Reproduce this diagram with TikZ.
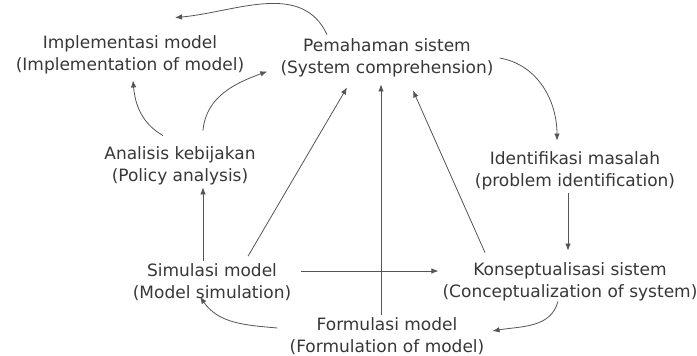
\documentclass[tikz,border=0pt]{standalone}
\usepackage{fontspec}
\setmainfont{DejaVu Sans}
\usetikzlibrary{arrows.meta}
\definecolor{inkgray}{RGB}{55,55,55}
\definecolor{linegray}{RGB}{85,85,85}

\begin{document}
\begin{tikzpicture}[
  x=1pt, y=-1pt,
  lbl/.style={text=inkgray, align=center, inner sep=2pt,
    font=\fontsize{17}{22}\selectfont},
  arr/.style={-{Latex[length=7pt,width=5.5pt]}, draw=linegray, line width=0.8pt}
]
\useasboundingbox (0,0) rectangle (697,356);
\node[lbl] (impl)   at (130,55)  {Implementasi model\\(Implementation of model)};
\node[lbl] (pem)    at (387,58)  {Pemahaman sistem\\(System comprehension)};
\node[lbl] (anal)   at (180,166) {Analisis kebijakan\\(Policy analysis)};
\node[lbl] (ident)  at (575,171) {Identifikasi masalah\\(problem identification)};
\node[lbl] (sim)    at (212,282) {Simulasi model\\(Model simulation)};
\node[lbl] (konsep) at (570,282) {Konseptualisasi sistem\\(Conceptualization of system)};
\node[lbl] (form)   at (387,336) {Formulasi model\\(Formulation of model)};
% Curved arrows
\draw[arr] ([xshift=-60pt,yshift=2pt]pem.north) to[out=115,in=5] ([xshift=45pt,yshift=16pt]impl.north);
\draw[arr] ([xshift=-17pt,yshift=9pt]anal.north) to[out=150,in=-85] ([xshift=3pt,yshift=-4pt]impl.south);
\draw[arr] ([xshift=23pt,yshift=14pt]anal.north) to[out=85,in=200] ([xshift=-11pt,yshift=8pt]pem.south west);
\draw[arr] ([xshift=4pt]pem.east) to[out=-10,in=90] ([xshift=-18pt,yshift=9pt]ident.north);
\draw[arr] ([xshift=-12pt,yshift=2pt]konsep.south) to[out=-105,in=10] ([xshift=6pt,yshift=5pt]form.east);
\draw[arr] ([xshift=-10pt,yshift=8pt]form.west) to[out=175,in=-55] ([xshift=-12pt,yshift=6pt]sim.south);
% Straight arrows
\coordinate (simtop) at ([xshift=-9pt]sim.north);
\draw[arr] (simtop) -- (simtop |- anal.south);
\draw[arr] ([xshift=36pt,yshift=5pt]sim.north) -- ([xshift=-40pt,yshift=-8pt]pem.south);
\draw[arr] ([xshift=-6pt]form.north) -- ([xshift=-6pt,yshift=-5pt]pem.south);
\draw[arr] ([xshift=8pt,yshift=11pt]sim.east) -- ([xshift=-2pt,yshift=11pt]konsep.west);
\draw[arr] ([xshift=-85pt,yshift=8pt]konsep.north) -- ([xshift=26pt,yshift=-11pt]pem.south);
\draw[arr] ([xshift=-7pt,yshift=-1pt]ident.south) -- ([xshift=-2pt,yshift=10pt]konsep.north);
\end{tikzpicture}
\end{document}
